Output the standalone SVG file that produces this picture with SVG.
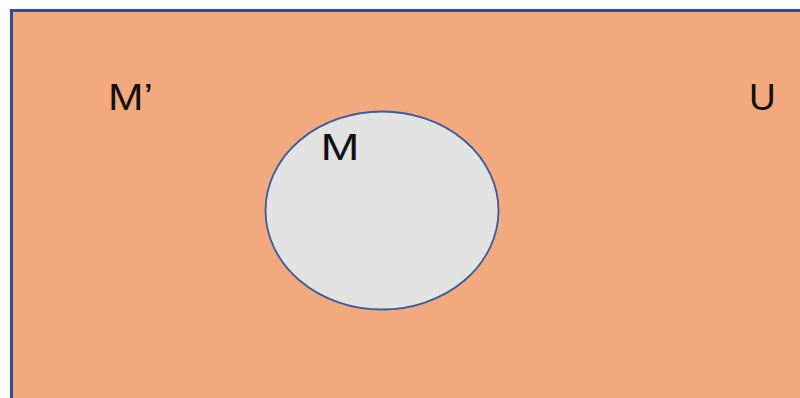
<svg xmlns="http://www.w3.org/2000/svg" width="800" height="398" viewBox="0 0 800 398">
<style>
.lbl{font-family:"Liberation Sans",Arial,sans-serif;font-size:37px;fill:#111}
</style>
<rect width="800" height="398" fill="#ffffff"/>
<g id="universe">
<rect x="11.5" y="10.5" width="800" height="400" fill="#F2A97E" stroke="#2F4C8C" stroke-width="3"/>
<text class="lbl" x="108" y="110" textLength="45" lengthAdjust="spacingAndGlyphs">M’</text>
<text class="lbl" x="749" y="110">U</text>
</g>
<g id="setM">
<ellipse cx="382" cy="210.5" rx="116.5" ry="99" fill="#E2E2E2" stroke="#3A5A9A" stroke-width="1.8"/>
<text class="lbl" x="320.5" y="160" textLength="39" lengthAdjust="spacingAndGlyphs">M</text>
</g>
<g id="connectors"/>
</svg>
